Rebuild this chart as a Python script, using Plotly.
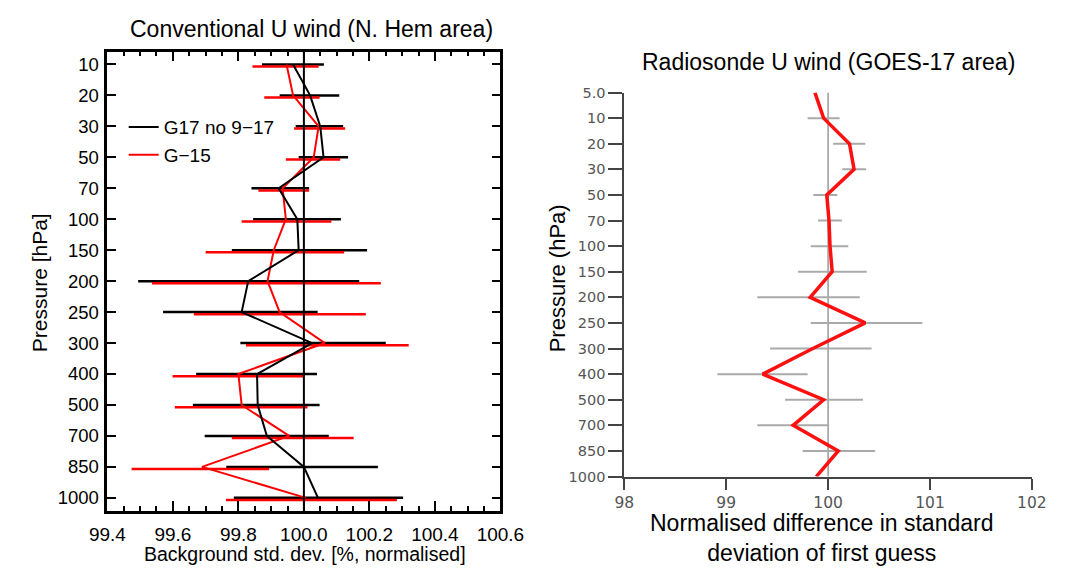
import plotly.graph_objects as go

# ---------------- Left panel data: Conventional U wind (N. Hem area) ----------------
LEVELS_L = ["10", "20", "30", "50", "70", "100", "150", "200", "250", "300",
            "400", "500", "700", "850", "1000"]
G17_MEAN = [99.967, 100.019, 100.050, 100.060, 99.923, 99.980, 99.984, 99.830, 99.810, 100.025,
            99.857, 99.859, 99.887, 100.000, 100.043]
G17_LO = [99.872, 99.926, 99.975, 99.984, 99.840, 99.845, 99.780, 99.494, 99.570, 99.806,
          99.671, 99.661, 99.697, 99.763, 99.786]
G17_HI = [100.061, 100.108, 100.120, 100.135, 100.016, 100.113, 100.193, 100.169, 100.042, 100.250,
          100.040, 100.048, 100.076, 100.226, 100.303]
G15_MEAN = [99.947, 99.967, 100.045, 100.030, 99.935, 99.945, 99.908, 99.889, 99.926, 100.064,
            99.800, 99.810, 99.955, 99.689, 100.006]
G15_LO = [99.843, 99.879, 99.970, 99.945, 99.861, 99.810, 99.700, 99.536, 99.664, 99.823,
          99.599, 99.606, 99.780, 99.474, 99.762]
G15_HI = [100.045, 100.048, 100.126, 100.111, 100.016, 100.084, 100.123, 100.235, 100.189, 100.320,
          99.998, 100.011, 100.152, 99.894, 100.284]
X_RANGE_L = [99.4, 100.6]

# ---------------- Right panel data: Radiosonde U wind (GOES-17 area) ----------------
LEVELS_R = ["5.0", "10", "20", "30", "50", "70", "100", "150", "200", "250", "300",
            "400", "500", "700", "850", "1000"]
RS_MEAN = [99.871, 99.956, 100.210, 100.255, 99.987, 100.009, 100.019, 100.040, 99.824, 100.365,
           99.850, 99.358, 99.956, 99.657, 100.100, 99.884]
RS_LO = [None, 99.799, 100.050, 100.139, 99.855, 99.902, 99.830, 99.704, 99.305, 99.830,
         99.431, 98.912, 99.578, 99.305, 99.750, None]
RS_HI = [None, 100.113, 100.365, 100.374, 100.091, 100.135, 100.198, 100.380, 100.311, 100.925,
         100.427, 99.799, 100.342, 100.010, 100.462, None]
X_TICKS_R = [98, 99, 100, 101, 102]

REF_VALUE = 100.0

FONT = "Liberation Sans, Arial, sans-serif"
W, H = 1076, 572


def segs(lo, hi, ys):
    xs, yy = [], []
    for a, b, y in zip(lo, hi, ys):
        if a is None or b is None:
            continue
        xs += [a, b, None]
        yy += [y, y, None]
    return xs, yy


fig = go.Figure()

idx_l = list(range(len(LEVELS_L)))
idx_r = list(range(len(LEVELS_R)))

# Left panel error bars
bx, by = segs(G17_LO, G17_HI, idx_l)
fig.add_trace(go.Scatter(x=bx, y=by, mode="lines", line=dict(color="black", width=2.5),
                         showlegend=False, hoverinfo="skip", xaxis="x", yaxis="y"))
rx, ry = segs(G15_LO, G15_HI, [i + 0.07 for i in idx_l])
fig.add_trace(go.Scatter(x=rx, y=ry, mode="lines", line=dict(color="#ff0000", width=2.5),
                         showlegend=False, hoverinfo="skip", xaxis="x", yaxis="y"))
# Left panel lines
fig.add_trace(go.Scatter(x=G15_MEAN, y=idx_l, mode="lines", name="G\u221215",
                         line=dict(color="#ff0000", width=2), legendrank=2, xaxis="x", yaxis="y"))
fig.add_trace(go.Scatter(x=G17_MEAN, y=idx_l, mode="lines", name="G17 no 9\u221217",
                         line=dict(color="black", width=2), legendrank=1, xaxis="x", yaxis="y"))

# Right panel error bars and line
gx, gy = segs(RS_LO, RS_HI, idx_r)
fig.add_trace(go.Scatter(x=gx, y=gy, mode="lines", line=dict(color="#aaaaaa", width=2),
                         showlegend=False, hoverinfo="skip", xaxis="x2", yaxis="y2"))
fig.add_trace(go.Scatter(x=RS_MEAN, y=idx_r, mode="lines", showlegend=False,
                         line=dict(color="#ff1010", width=3.5), xaxis="x2", yaxis="y2"))

# Reference lines at 100
fig.add_shape(type="line", xref="x", yref="y domain", x0=REF_VALUE, x1=REF_VALUE, y0=0, y1=1,
              line=dict(color="black", width=2), layer="above")
fig.add_shape(type="line", xref="x2", yref="y2", x0=REF_VALUE, x1=REF_VALUE, y0=0, y1=len(LEVELS_R) - 1,
              line=dict(color="#999999", width=1.5), layer="below")

# Layout / axes
xl0, xl1 = 93 / W, 502 / W
yl0, yl1 = 1 - 517 / H, 1 - 45 / H
xr0, xr1 = 631 / W, 1055 / W
yr0, yr1 = 1 - 482 / H, 1 - 87 / H

fig.update_layout(
    width=W, height=H,
    margin=dict(l=0, r=0, t=0, b=0),
    paper_bgcolor="white", plot_bgcolor="white",
    font=dict(family=FONT, color="black"),
    showlegend=True,
    legend=dict(x=110 / W, y=1 - 103 / H, xanchor="left", yanchor="top",
                bgcolor="rgba(0,0,0,0)", font=dict(size=19, family=FONT),
                tracegroupgap=0, itemwidth=30),
    xaxis=dict(domain=[xl0, xl1], range=X_RANGE_L, tickmode="linear", tick0=99.4, dtick=0.2,
               tickformat=".1f",
               ticks="inside", ticklen=10, tickwidth=2, tickcolor="black",
               minor=dict(dtick=0.05, ticks="inside", ticklen=5, tickwidth=2, tickcolor="black",
                          showgrid=False),
               showline=True, linecolor="black", linewidth=2.5, mirror="ticks",
               showgrid=False, zeroline=False, tickfont=dict(size=19, family=FONT),
               ticklabelstandoff=5, anchor="y"),
    yaxis=dict(domain=[yl0, yl1], range=[14.41, -0.41], tickvals=idx_l, ticktext=LEVELS_L,
               ticks="inside", ticklen=9, tickwidth=2, tickcolor="black",
               showline=True, linecolor="black", linewidth=2.5, mirror="ticks",
               showgrid=False, zeroline=False, tickfont=dict(size=18.5, family=FONT),
               ticklabelstandoff=2, anchor="x"),
    xaxis2=dict(domain=[xr0, xr1], range=[98, 102], tickvals=X_TICKS_R,
                ticks="outside", ticklen=11, tickwidth=2, tickcolor="#444444",
                showline=True, linecolor="#444444", linewidth=2, mirror=False,
                showgrid=False, zeroline=False,
                tickfont=dict(size=15.5, family="DejaVu Sans", color="#555555"),
                ticklabelstandoff=0, anchor="y2"),
    yaxis2=dict(domain=[yr0, yr1], range=[len(LEVELS_R) - 1, 0], tickvals=idx_r, ticktext=LEVELS_R,
                ticks="outside", ticklen=14, tickwidth=2, tickcolor="#444444",
                showline=True, linecolor="#444444", linewidth=2, mirror=False,
                showgrid=False, zeroline=False,
                tickfont=dict(size=14.5, family="DejaVu Sans", color="#555555"),
                ticklabelstandoff=0, anchor="x2"),
)

ann = [
    dict(text="Conventional U wind (N. Hem area)", x=305 / W, y=1 - 22 / H, size=23),
    dict(text="Radiosonde U wind (GOES-17 area)", x=843 / W, y=1 - 56 / H, size=23),
    dict(text="Background std. dev. [%, normalised]", x=299 / W, y=1 - 562 / H, size=19.5),
    dict(text="Normalised difference in standard<br>deviation of first guess", x=836 / W,
         y=1 - 545 / H, size=23),
]
for a in ann:
    fig.add_annotation(text=a["text"], x=a["x"], y=a["y"], xref="paper", yref="paper",
                       xanchor="center", yanchor="middle", showarrow=False,
                       font=dict(size=a["size"], family=FONT, color="black"))
fig.add_annotation(text="Pressure [hPa]", x=22 / W, y=1 - 283 / H, xref="paper", yref="paper",
                   xanchor="center", yanchor="middle", showarrow=False, textangle=-90,
                   font=dict(size=21, family=FONT, color="black"))
fig.add_annotation(text="Pressure (hPa)", x=561 / W, y=1 - 278 / H, xref="paper", yref="paper",
                   xanchor="center", yanchor="middle", showarrow=False, textangle=-90,
                   font=dict(size=22, family=FONT, color="black"))

fig.write_html("out.html")
